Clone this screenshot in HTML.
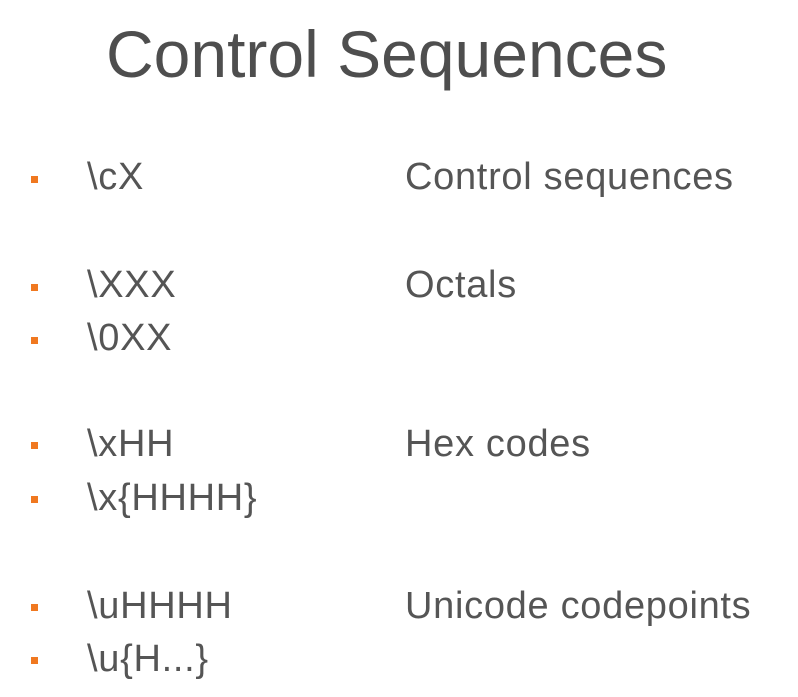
<!DOCTYPE html>
<html><head><style>
body{margin:0;width:798px;height:697px;background:#fff;position:relative;overflow:hidden;font-family:"Liberation Sans",sans-serif;color:#555}
.t{position:absolute;white-space:nowrap;line-height:1}
.title{font-size:66px;left:106px;top:21px;color:#4e4e4e}
.r{font-size:38px;letter-spacing:0.7px}
.b{position:absolute;width:7px;height:7px;background:#f07820;left:31px}
</style></head><body>
<div class="t title">Control Sequences</div>

<div class="b" style="top:176px"></div>
<div class="t r" style="left:87px;top:158px">\cX</div>
<div class="t r" style="left:405px;top:158px">Control sequences</div>

<div class="b" style="top:284px"></div>
<div class="t r" style="left:87px;top:266px">\XXX</div>
<div class="t r" style="left:405px;top:266px">Octals</div>
<div class="b" style="top:337px"></div>
<div class="t r" style="left:87px;top:319px">\0XX</div>

<div class="b" style="top:442px"></div>
<div class="t r" style="left:87px;top:425px">\xHH</div>
<div class="t r" style="left:405px;top:425px">Hex codes</div>
<div class="b" style="top:496px"></div>
<div class="t r" style="left:87px;top:479px">\x{HHHH}</div>

<div class="b" style="top:604px"></div>
<div class="t r" style="left:87px;top:587px">\uHHHH</div>
<div class="t r" style="left:405px;top:587px">Unicode codepoints</div>
<div class="b" style="top:657px"></div>
<div class="t r" style="left:87px;top:640px">\u{H...}</div>
</body></html>
